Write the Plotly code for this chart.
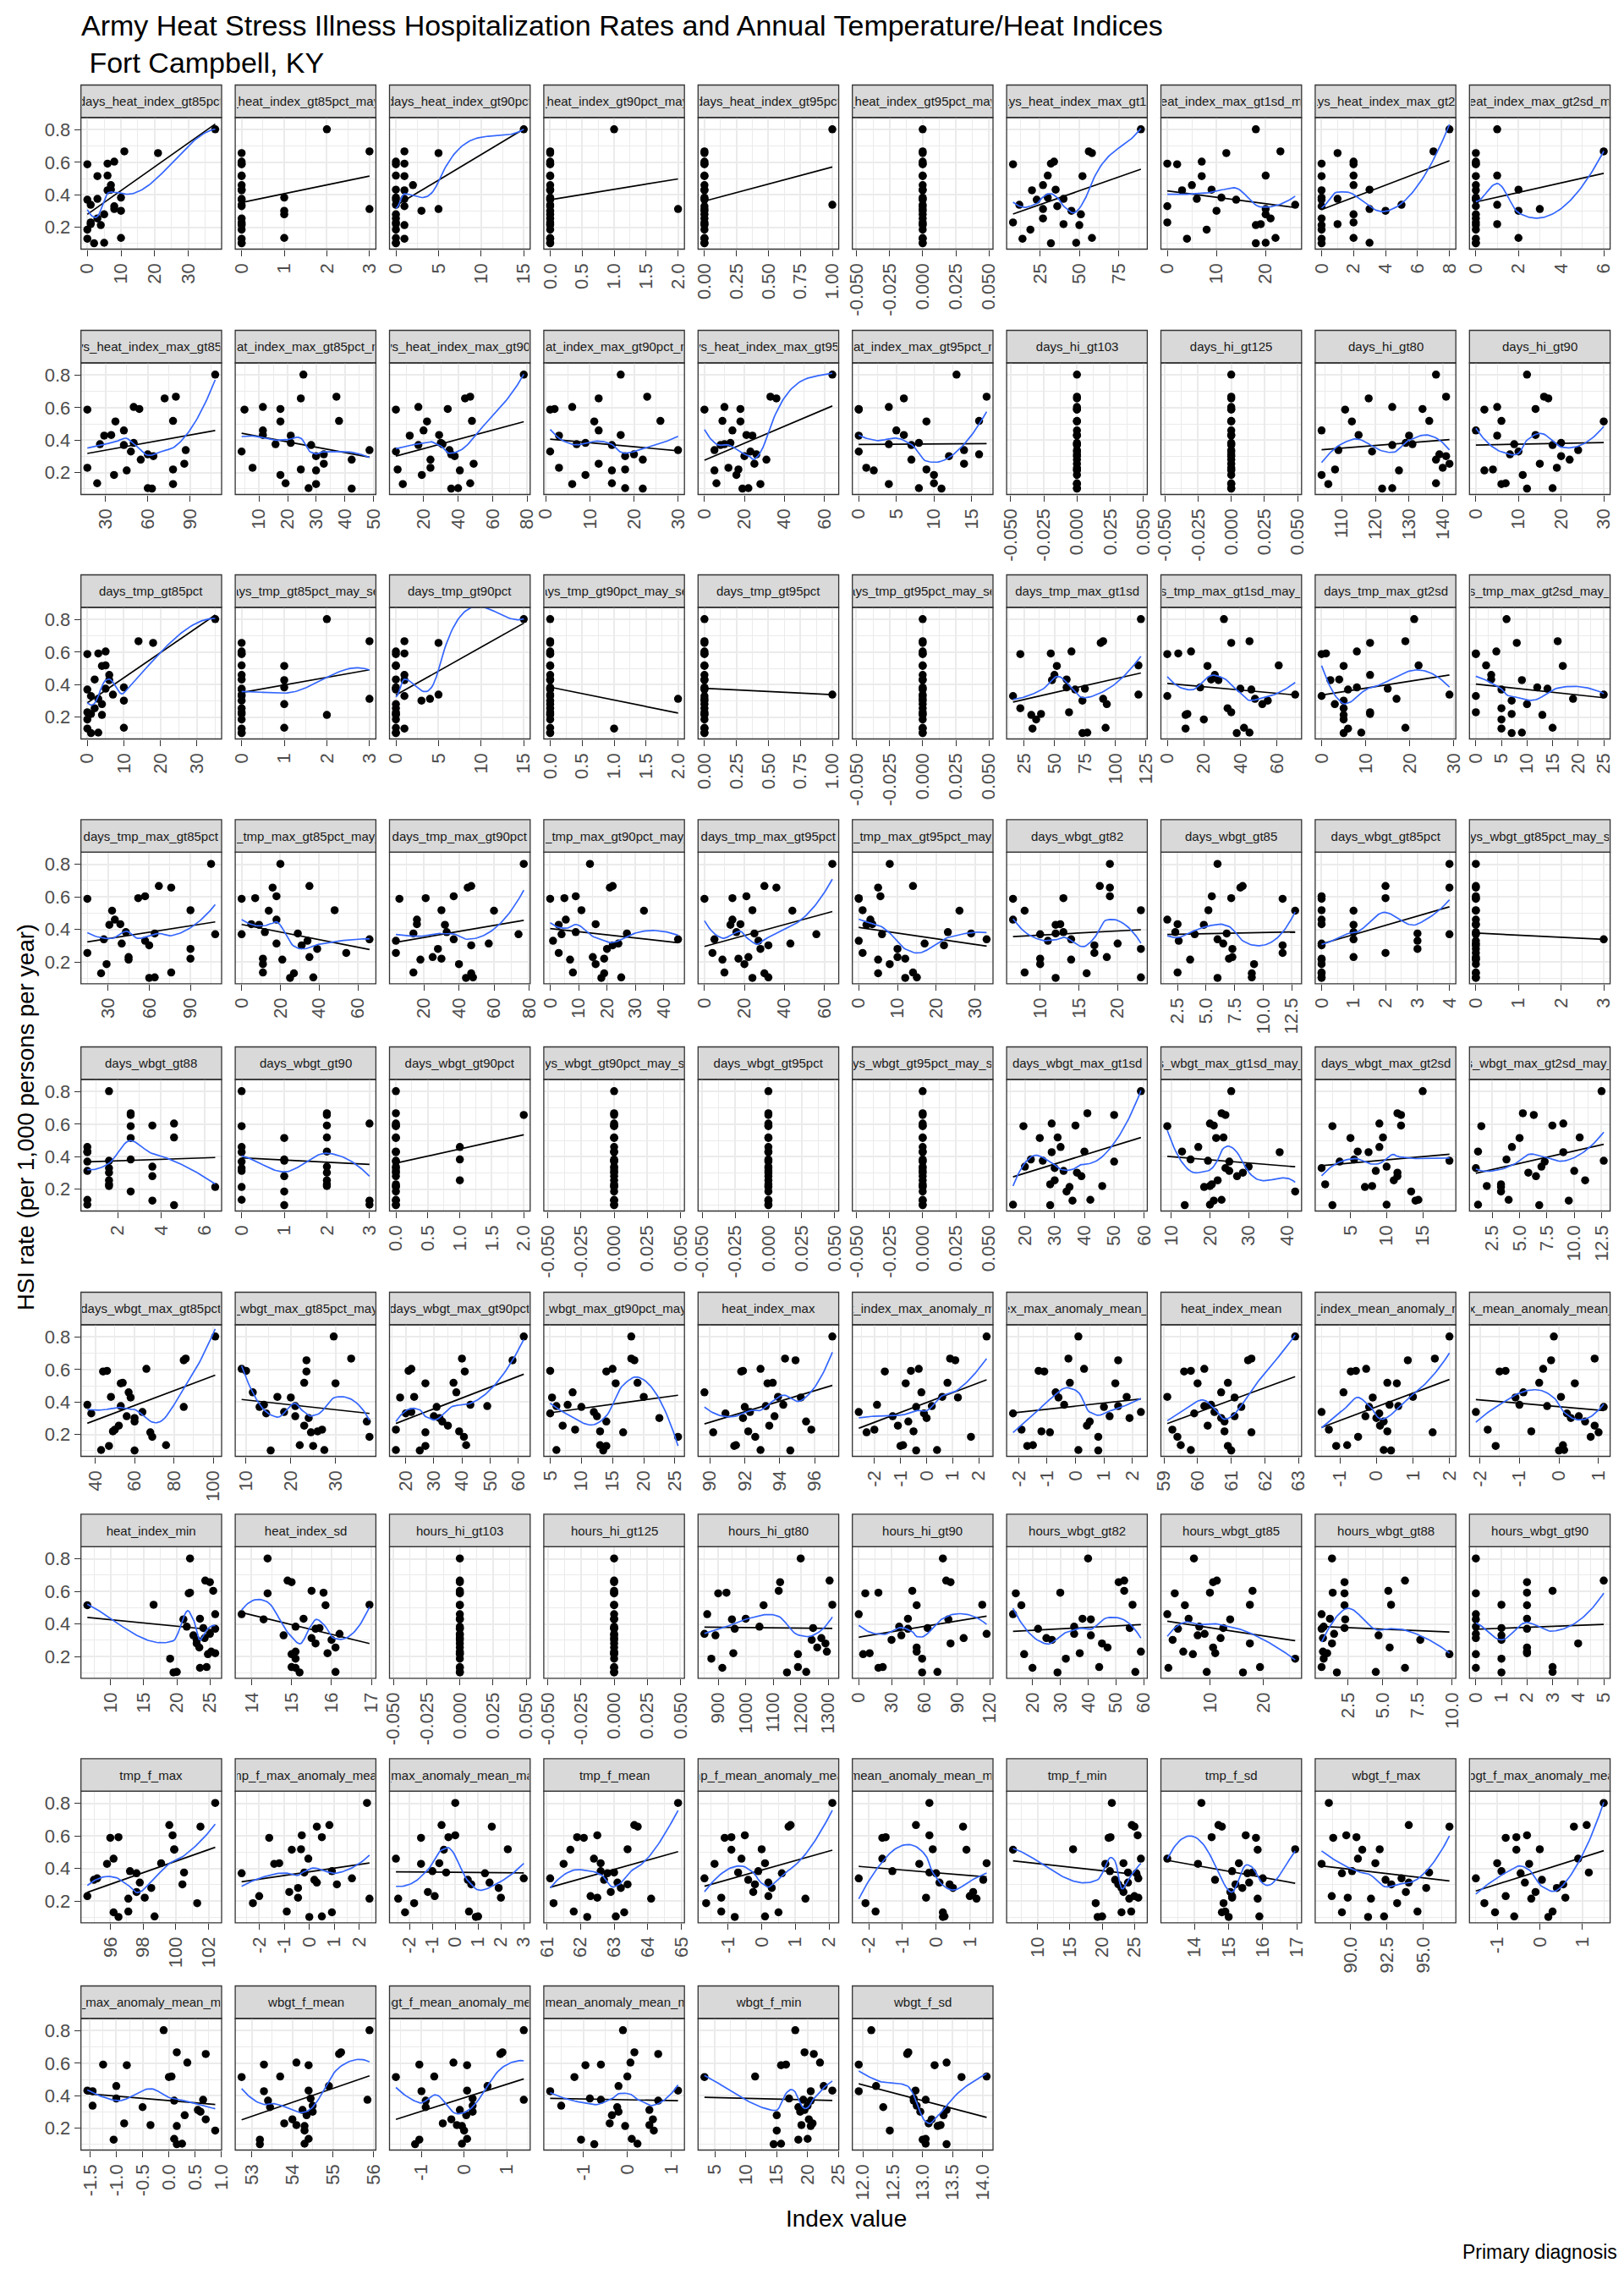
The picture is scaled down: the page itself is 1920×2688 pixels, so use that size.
import math
import numpy as np
import plotly.graph_objects as go

# ---------------------------------------------------------------- data
# HSI hospitalization rate (per 1,000 persons per year), one value per year,
# listed in ascending order; every panel pairs its index values with these.
hsi_rate = [0.102, 0.105, 0.130, 0.135, 0.186, 0.214, 0.220, 0.230, 0.255, 0.280,
            0.302, 0.313, 0.330, 0.339, 0.370, 0.375, 0.383, 0.428, 0.432, 0.460,
            0.515, 0.518, 0.588, 0.592, 0.604, 0.657, 0.667, 0.803]

panel_names = [
    "days_heat_index_gt85pct", "days_heat_index_gt85pct_may_sep", "days_heat_index_gt90pct",
    "days_heat_index_gt90pct_may_sep", "days_heat_index_gt95pct", "days_heat_index_gt95pct_may_sep",
    "days_heat_index_max_gt1sd", "days_heat_index_max_gt1sd_may_sep", "days_heat_index_max_gt2sd",
    "days_heat_index_max_gt2sd_may_sep",
    "days_heat_index_max_gt85pct", "days_heat_index_max_gt85pct_may_sep", "days_heat_index_max_gt90pct",
    "days_heat_index_max_gt90pct_may_sep", "days_heat_index_max_gt95pct", "days_heat_index_max_gt95pct_may_sep",
    "days_hi_gt103", "days_hi_gt125", "days_hi_gt80", "days_hi_gt90",
    "days_tmp_gt85pct", "days_tmp_gt85pct_may_sep", "days_tmp_gt90pct", "days_tmp_gt90pct_may_sep",
    "days_tmp_gt95pct", "days_tmp_gt95pct_may_sep", "days_tmp_max_gt1sd", "days_tmp_max_gt1sd_may_sep",
    "days_tmp_max_gt2sd", "days_tmp_max_gt2sd_may_sep",
    "days_tmp_max_gt85pct", "days_tmp_max_gt85pct_may_sep", "days_tmp_max_gt90pct",
    "days_tmp_max_gt90pct_may_sep", "days_tmp_max_gt95pct", "days_tmp_max_gt95pct_may_sep",
    "days_wbgt_gt82", "days_wbgt_gt85", "days_wbgt_gt85pct", "days_wbgt_gt85pct_may_sep",
    "days_wbgt_gt88", "days_wbgt_gt90", "days_wbgt_gt90pct", "days_wbgt_gt90pct_may_sep",
    "days_wbgt_gt95pct", "days_wbgt_gt95pct_may_sep", "days_wbgt_max_gt1sd", "days_wbgt_max_gt1sd_may_sep",
    "days_wbgt_max_gt2sd", "days_wbgt_max_gt2sd_may_sep",
    "days_wbgt_max_gt85pct", "days_wbgt_max_gt85pct_may_sep", "days_wbgt_max_gt90pct",
    "days_wbgt_max_gt90pct_may_sep", "heat_index_max", "heat_index_max_anomaly_mean",
    "heat_index_max_anomaly_mean_may_sep", "heat_index_mean", "heat_index_mean_anomaly_mean",
    "heat_index_mean_anomaly_mean_may_sep",
    "heat_index_min", "heat_index_sd", "hours_hi_gt103", "hours_hi_gt125", "hours_hi_gt80",
    "hours_hi_gt90", "hours_wbgt_gt82", "hours_wbgt_gt85", "hours_wbgt_gt88", "hours_wbgt_gt90",
    "tmp_f_max", "tmp_f_max_anomaly_mean", "tmp_f_max_anomaly_mean_may_sep", "tmp_f_mean",
    "tmp_f_mean_anomaly_mean", "tmp_f_mean_anomaly_mean_may_sep", "tmp_f_min", "tmp_f_sd",
    "wbgt_f_max", "wbgt_f_max_anomaly_mean",
    "wbgt_f_max_anomaly_mean_may_sep", "wbgt_f_mean", "wbgt_f_mean_anomaly_mean",
    "wbgt_f_mean_anomaly_mean_may_sep", "wbgt_f_min", "wbgt_f_sd",
]

# index values, in the same order as hsi_rate
days_heat_index_gt85pct = [2, 5, 0, 10, 0, 4, 1, 1, 3, 5, 10, 8, 8, 1, 0, 3, 10, 6, 7, 7, 3, 6, 0, 6, 8, 21, 11, 38]
days_heat_index_gt85pct_may_sep = [0, 0, 0, 1, 0, 0, 0, 0, 0, 1, 1, 3, 0, 0, 0, 0, 1, 0, 0, 0, 0, 0, 0, 0, 0, 0, 3, 2]
days_heat_index_gt90pct = [0, 0, 1, 0, 0, 1, 0, 0, 0, 0, 3, 5, 1, 0, 0, 1, 0, 1, 0, 2, 1, 0, 0, 1, 0, 5, 1, 15]
days_heat_index_gt90pct_may_sep = [0, 0, 0, 0, 0, 0, 0, 0, 0, 0, 0, 2, 0, 0, 0, 0, 0, 0, 0, 0, 0, 0, 0, 0, 0, 0, 0, 1]
days_heat_index_gt95pct = [0, 0, 0, 0, 0, 0, 0, 0, 0, 0, 0, 0, 0, 1, 0, 0, 0, 0, 0, 0, 0, 0, 0, 0, 0, 0, 0, 1]
days_heat_index_gt95pct_may_sep = [0, 0, 0, 0, 0, 0, 0, 0, 0, 0, 0, 0, 0, 0, 0, 0, 0, 0, 0, 0, 0, 0, 0, 0, 0, 0, 0, 0]
days_heat_index_max_gt1sd = [32, 48, 14, 58, 19, 50, 40, 8, 27, 51, 45, 27, 36, 12, 23, 40, 30, 20, 35, 27, 52, 30, 8, 32, 34, 58, 56, 89]
days_heat_index_max_gt1sd_may_sep = [18, 20, 4, 22, 8, 18, 19, 0, 21, 20, 10, 20, 0, 26, 14, 6, 11, 3, 9, 5, 7, 20, 2, 0, 7, 12, 23, 18]
days_heat_index_max_gt2sd = [0, 3, 0, 2, 0, 0, 1, 2, 0, 2, 4, 3, 0, 5, 0, 1, 0, 0, 3, 2, 0, 2, 2, 0, 2, 1, 7, 8]
days_heat_index_max_gt2sd_may_sep = [0, 0, 0, 2, 0, 0, 1, 0, 0, 0, 2, 3, 0, 1, 0, 0, 0, 0, 2, 0, 0, 1, 0, 0, 0, 0, 6, 1]
days_heat_index_max_gt85pct = [63, 60, 78, 24, 36, 45, 78, 17, 86, 55, 64, 60, 48, 87, 43, 26, 50, 29, 34, 43, 37, 78, 17, 54, 50, 72, 80, 108]
days_heat_index_max_gt85pct_may_sep = [42.3, 27.3, 29.9, 19.3, 17.5, 29.9, 24.6, 7.8, 32.6, 42.3, 29.9, 32.6, 4, 48.5, 28.2, 15.8, 21.1, 21.1, 11.4, 11.4, 17.5, 37.9, 5, 17.5, 11.4, 24.6, 37, 25.5]
days_heat_index_max_gt90pct = [36, 40, 8, 47, 19, 41, 5, 24, 49, 24, 38, 36, 4, 35, 17, 31, 30, 12, 29, 20, 22, 48, 4, 34, 17, 44, 47, 78]
days_heat_index_max_gt90pct_may_sep = [22, 18, 6, 15, 9, 15, 18, 3, 12, 22, 18, 20, 1, 30, 15, 7, 9, 3, 17, 12, 11, 26, 1, 2, 6, 12, 23, 17]
days_heat_index_max_gt95pct = [19, 22, 28, 6, 16, 5, 17, 12, 25, 31, 20, 26, 23, 5, 8, 10, 13, 24, 21, 14, 18, 9, 0, 18, 10, 36, 33, 64]
days_heat_index_max_gt95pct_may_sep = [11, 8, 4, 10, 10, 2, 9, 1, 14, 7, 12, 16, 0, 14, 7, 4, 8, 0, 6, 5, 9, 16, 0, 0, 4, 6, 17, 13]
days_hi_gt103 = [0, 0, 0, 0, 0, 0, 0, 0, 0, 0, 0, 0, 0, 0, 0, 0, 0, 0, 0, 0, 0, 0, 0, 0, 0, 0, 0, 0]
days_hi_gt125 = [0, 0, 0, 0, 0, 0, 0, 0, 0, 0, 0, 0, 0, 0, 0, 0, 0, 0, 0, 0, 0, 0, 0, 0, 0, 0, 0, 0]
days_hi_gt80 = [122, 125, 106, 138, 104, 127, 108, 140, 142, 138, 141, 139, 119, 109, 125, 131, 129, 130, 115, 104, 113, 136, 111, 134, 125, 118, 141, 138]
days_hi_gt90 = [12, 18, 6, 7, 11, 2, 4, 19, 15, 22, 20, 8, 10, 24, 18, 9, 20, 5, 14, 0, 30, 6, 2, 14, 5, 17, 16, 12]
days_tmp_gt85pct = [1, 3, 0, 10, 0, 4, 1, 0, 2, 4, 10, 3, 1, 7, 0, 5, 10, 6, 2, 6, 4, 5, 0, 3, 5, 18, 14, 35]
days_tmp_gt85pct_may_sep = [0, 0, 0, 1, 0, 2, 0, 0, 0, 1, 0, 3, 0, 0, 0, 0, 1, 1, 0, 0, 1, 0, 0, 0, 0, 0, 3, 2]
days_tmp_gt90pct = [0, 0, 1, 0, 0, 0, 0, 0, 0, 0, 3, 4, 1, 5, 0, 0, 0, 1, 0, 1, 0, 0, 0, 1, 0, 5, 1, 15]
days_tmp_gt90pct_may_sep = [0, 0, 1, 0, 0, 0, 0, 0, 0, 0, 0, 2, 0, 0, 0, 0, 0, 0, 0, 0, 0, 0, 0, 0, 0, 0, 0, 0]
days_tmp_gt95pct = [0, 0, 0, 0, 0, 0, 0, 0, 0, 0, 0, 0, 0, 1, 0, 0, 0, 0, 0, 0, 0, 0, 0, 0, 0, 0, 0, 0]
days_tmp_gt95pct_may_sep = [0, 0, 0, 0, 0, 0, 0, 0, 0, 0, 0, 0, 0, 0, 0, 0, 0, 0, 0, 0, 0, 0, 0, 0, 0, 0, 0, 0]
days_tmp_max_gt1sd = [73, 77, 32, 92, 35, 31, 39, 62, 22, 93, 73, 90, 16, 119, 67, 75, 60, 48, 60, 50, 52, 119, 22, 47, 64, 88, 90, 121]
days_tmp_max_gt1sd_may_sep = [38, 45, 10, 42, 20, 10, 11, 35, 33, 52, 55, 48, 0, 70, 46, 40, 18, 28, 24, 26, 22, 61, 0, 6, 13, 35, 45, 31]
days_tmp_max_gt2sd = [5, 9, 6, 19, 5, 5, 11, 11, 5, 3, 5, 17, 0, 29, 6, 15, 8, 2, 4, 11, 5, 22, 0, 1, 8, 11, 19, 21]
days_tmp_max_gt2sd_may_sep = [7, 9, 5, 15, 5, 13, 7, 0, 5, 10, 7, 19, 0, 25, 5, 14, 12, 9, 3, 3, 17, 2, 0, 0, 4, 8, 16, 6]
days_tmp_max_gt85pct = [60, 64, 25, 76, 29, 45, 90, 45, 15, 90, 60, 40, 57, 27, 108, 64, 43, 31, 39, 35, 33, 90, 15, 52, 57, 76, 67, 105]
days_tmp_max_gt85pct_may_sep = [25, 37, 27, 11, 11, 21, 11, 35, 54, 39, 31, 18, 34, 66, 0, 29, 12, 9, 5, 18, 14, 48, 0, 7, 18, 16, 35, 20]
days_tmp_max_gt90pct = [44, 48, 47, 14, 40, 18, 30, 25, 4, 28, 47, 57, 4, 37, 74, 14, 33, 32, 16, 16, 60, 30, 6, 21, 37, 45, 47, 77]
days_tmp_max_gt90pct_may_sep = [18, 25, 19, 8, 16, 7, 19, 15, 3, 20, 22, 24, 1, 45, 4, 27, 9, 3, 16, 5.5, 33, 11, 0, 5, 9, 21, 22, 14]
days_tmp_max_gt95pct = [24, 32, 30, 10, 20, 9, 17, 22, 4, 28, 32, 43, 27, 5, 56, 25, 16, 13, 18, 14, 44, 24, 0, 14, 21, 36, 30, 64]
days_tmp_max_gt95pct_may_sep = [12, 15, 5, 14, 8, 5, 12, 10, 1, 10, 22, 17, 0, 33, 6, 29, 23, 2, 3.5, 3, 26, 1, 0, 0, 5.6, 5, 14, 8]
days_wbgt_gt82 = [12, 23, 16, 8, 10, 14, 10, 18.6, 17, 23, 17, 20, 11, 14, 10, 12, 13, 12, 12.6, 6.5, 8, 23, 6.5, 13, 19, 19, 17.7, 19]
days_wbgt_gt85 = [6, 9, 9, 2.5, 9.2, 3.6, 7, 7.3, 11.7, 7.3, 11.7, 6.5, 2.6, 6, 4, 6.8, 2.3, 4.8, 2.5, 1.6, 12.8, 5.2, 11.7, 7.2, 5.5, 8, 8.2, 6]
days_wbgt_gt85pct = [0, 0, 0, 0, 0, 0, 0, 1, 2, 3, 0, 0, 3, 1, 4, 3, 1, 1, 0, 0, 1, 0, 0, 2, 0, 4, 2, 4]
days_wbgt_gt85pct_may_sep = [0, 0, 0, 0, 0, 0, 0, 0, 0, 0, 0, 0, 0, 3, 0, 0, 0, 0, 0, 0, 0, 0, 0, 0, 0, 0, 0, 0]
days_wbgt_gt88 = [4.6, 0.6, 3.6, 0.6, 2.6, 6.5, 1.6, 1.6, 1.6, 3.6, 1.6, 0.6, 1.6, 3.6, 0.6, 1.6, 2.6, 0.6, 0.6, 0.6, 2.6, 4.6, 2.6, 3.6, 4.6, 2.6, 2.6, 1.6]
days_wbgt_gt90 = [1, 3, 3, 0, 1, 0, 2, 2, 2, 1, 2, 0, 0, 2, 0, 1, 1, 0, 2, 0, 1, 2, 0, 2, 3, 2, 2, 0]
days_wbgt_gt90pct = [0, 0, 0, 0, 0, 0, 0, 0, 1, 0, 0, 0, 0, 0, 0, 0, 1, 0, 0, 1, 0, 0, 0, 0, 0, 2, 0, 0]
days_wbgt_gt90pct_may_sep = [0, 0, 0, 0, 0, 0, 0, 0, 0, 0, 0, 0, 0, 0, 0, 0, 0, 0, 0, 0, 0, 0, 0, 0, 0, 0, 0, 0]
days_wbgt_gt95pct = [0, 0, 0, 0, 0, 0, 0, 0, 0, 0, 0, 0, 0, 0, 0, 0, 0, 0, 0, 0, 0, 0, 0, 0, 0, 0, 0, 0]
days_wbgt_gt95pct_may_sep = [0, 0, 0, 0, 0, 0, 0, 0, 0, 0, 0, 0, 0, 0, 0, 0, 0, 0, 0, 0, 0, 0, 0, 0, 0, 0, 0, 0]
days_wbgt_max_gt1sd = [28.5, 16, 36, 42, 34, 35, 46, 28.5, 30, 39, 37.5, 33, 30, 20, 50, 26, 22, 29, 40, 32, 25, 31, 19.5, 37, 29, 50, 41, 59]
days_wbgt_max_gt1sd_may_sep = [13.5, 20, 21, 23, 42, 18.5, 20, 20.5, 22, 27, 28.5, 25, 24, 30, 25, 19.5, 15, 38, 12.8, 17, 21.6, 23.5, 9, 21, 20, 24, 23, 25.5]
days_wbgt_max_gt2sd = [2.5, 10, 14, 14.4, 13.4, 7, 8, 1.5, 11, 11.5, 11.5, 8.5, 1, 10, 3.5, 18.7, 5.5, 7.5, 6, 9, 5, 9.5, 2.5, 12, 9, 12, 11.5, 15]
days_wbgt_max_gt2sd_may_sep = [6.8, 1.2, 9.5, 4, 3.3, 3.3, 2, 3.3, 11, 6.5, 5.8, 10, 1, 7, 7.3, 12.7, 3.8, 9, 1.2, 4.3, 5, 10.5, 1.5, 8, 9, 6.3, 5.3, 12.5]
days_wbgt_max_gt85pct = [60, 43, 47, 76, 69, 68, 49, 50, 52, 60, 60, 56, 38, 64, 85, 53, 36, 58, 48, 57, 53, 54, 44, 46, 66, 85, 86, 101]
days_wbgt_max_gt85pct_may_sep = [15.5, 27.5, 25, 22, 37.6, 24.5, 26, 27, 23, 37, 24, 21, 14.5, 18.5, 13, 21, 14, 20, 17, 11.5, 30, 23, 23.5, 10, 9, 23.5, 33.5, 29.6]
days_wbgt_max_gt90pct = [25, 16.5, 27, 41.5, 40.7, 27, 39, 16.5, 35, 33, 32, 30, 20, 22, 31, 49, 43, 18, 23, 38, 27, 37, 41, 21, 22, 58, 40, 62]
days_wbgt_max_gt90pct_may_sep = [13.5, 6, 14, 13, 25.5, 16.7, 13, 9, 7, 14, 22.5, 12.5, 5, 12, 10, 6, 7.8, 5.3, 20, 8.6, 15.5, 19, 14, 5, 15, 18.5, 18, 18]
heat_index_max = [94.6, 92.9, 91.4, 91.5, 92.6, 90.2, 92.2, 95.8, 93.4, 95.5, 91.9, 93.7, 90.9, 92.3, 92, 93.2, 94.2, 95.2, 93.9, 89.7, 93.3, 93.6, 91.8, 91.9, 92.9, 94.9, 94.3, 97]
heat_index_max_anomaly_mean = [-0.4, 0.4, -1, -0.9, 1.7, -2.3, -0.5, -2, -1.1, -0.7, 0, -1.3, -0.1, -2.6, -0.4, 0.2, -1.9, 1.2, 0.6, -0.2, -0.8, 0.8, -1.6, -0.6, -0.3, 1.1, 0.9, 2.3]
heat_index_max_anomaly_mean_may_sep = [0.8, 0.1, -1.7, -1.5, 0.8, -0.9, -1.2, -1.9, 0.4, 0.5, 1.9, 1.2, -2.2, 2.3, 1, 1.5, -0.4, -0.6, 1.8, -0.7, 1.4, -0.2, -1.1, -1.3, 0.3, 1.5, -0.25, 0.1]
heat_index_mean = [61, 59.8, 60.9, 59.5, 59.4, 61.6, 60.8, 59.25, 60.3, 60.8, 60.7, 61.1, 59.9, 60.5, 61.3, 60.2, 60.4, 61.1, 59.1, 60.7, 60, 60.9, 59.6, 59.8, 60.2, 61.5, 61.6, 62.9]
heat_index_mean_anomaly_mean = [0.4, 0.2, -1.1, -0.8, -0.5, 1.54, 0.3, -1.3, 0.1, 0.2, 0, -0.3, 0.08, -1.5, -0.2, 0.6, 0.36, -0.1, 1, -0.9, 0.56, 0.3, -0.7, -0.56, -0.28, 0.86, 1.6, 2]
heat_index_mean_anomaly_mean_may_sep = [0, 0.13, -1.6, 0.1, 0.8, 1, -0.7, -1.8, 0.9, 0.66, 0.3, 0.5, 0.2, -2.1, 1.13, -0.3, -1, -1.1, 0.05, -0.9, 0.4, -0.5, -1.5, -1.35, -0.4, -0.2, 0.9, -0.13]
heat_index_min = [19.5, 20, 23.5, 24.5, 19, 24.7, 25.8, 25.2, 23.4, 23, 23, 24.2, 22.5, 25, 25.8, 24, 21.5, 21, 23.5, 25.8, 6.5, 16.5, 21.8, 22, 25.5, 25, 24.3, 22]
heat_index_sd = [15.2, 16.1, 15.1, 15, 15.1, 15, 15.9, 15.1, 16.1, 15.6, 16, 15.5, 14.8, 16.2, 15.6, 15.7, 15.1, 14.3, 15.3, 13.75, 15.85, 16.95, 14.4, 15.8, 15.5, 15, 14.9, 14.4]
hours_hi_gt103 = [0, 0, 0, 0, 0, 0, 0, 0, 0, 0, 0, 0, 0, 0, 0, 0, 0, 0, 0, 0, 0, 0, 0, 0, 0, 0, 0, 0]
hours_hi_gt125 = [0, 0, 0, 0, 0, 0, 0, 0, 0, 0, 0, 0, 0, 0, 0, 0, 0, 0, 0, 0, 0, 0, 0, 0, 0, 0, 0, 0]
hours_hi_gt80 = [1150, 1220, 915, 1190, 875, 1190, 955, 1295, 1260, 1290, 1240, 1275, 890, 850, 960, 1245, 1050, 950, 1000, 860, 1065, 1315, 900, 930, 1120, 1125, 1305, 1200]
hours_hi_gt90 = [58, 72, 18, 22, 58, 4, 10, 53, 53, 84, 30, 96, 39, 117, 45, 63, 37, 82, 45, 0, 53, 113, 6, 18, 49, 84, 80, 77]
hours_wbgt_gt82 = [29, 57, 20, 44, 32, 17, 37, 59, 47, 45, 27, 25, 41, 35, 22, 55, 35, 41, 38, 13, 16, 56, 14, 30, 53, 51, 53, 40]
hours_wbgt_gt85 = [16.2, 9.4, 2.2, 19.4, 26, 6.8, 11, 5, 10.6, 17.5, 3, 12, 7.7, 9, 4, 12.5, 8, 13.8, 6, 2, 5.3, 17.5, 3.4, 10, 18, 10.6, 11.3, 7]
hours_wbgt_gt88 = [1.7, 4.5, 6.6, 0.6, 0.75, 9.8, 1, 0.7, 5.5, 1.35, 7.7, 0.7, 4.7, 1.5, 0.6, 2.25, 0.75, 2.3, 1.2, 0.6, 2.25, 5.6, 2.25, 1.4, 5.4, 2.25, 6.6, 1.35]
hours_wbgt_gt90 = [1, 3, 0, 3, 1, 0, 2, 2, 2, 4, 1, 0, 1, 0, 2, 1, 0, 0, 2, 0, 2, 1, 0, 2, 3, 2, 5, 0]
tmp_f_max = [96.5, 98.7, 96.2, 97.1, 101.3, 97.1, 98.1, 94.6, 97.6, 98.5, 100.4, 97.8, 95, 95.2, 97.6, 100.5, 97.2, 95.8, 99.1, 96.2, 99.9, 99.9, 96, 96.5, 99.8, 101.5, 99.6, 102.4]
tmp_f_max_anomaly_mean = [0, 0.5, 0.9, -0.9, -2.25, 2.4, -0.45, -2, -0.8, -0.45, 1.1, 0.3, 0.2, 1.7, -2.7, -0.2, 0.9, -1.4, -1.2, -0.04, -0.7, -0.33, -1.6, 0.5, -0.3, 0.3, 0.8, 2.3]
tmp_f_max_anomaly_mean_may_sep = [0.9, 1, -2.2, 0.6, -1.8, -2.5, 2, -0.9, -1.2, 1.9, 0.7, 1.5, 0.55, 3, 1.3, -0.4, -1, -1.5, -0.7, -2.6, -0.5, 2.3, -1.5, -0.3, 0, 1.6, -0.6, 0]
tmp_f_mean = [62.2, 63.05, 63.3, 61.8, 61.2, 64.1, 62.5, 62.3, 62.9, 63.2, 63.4, 63.1, 62.7, 61.1, 62.8, 63, 62.6, 61.5, 62.6, 62.4, 61.7, 63.4, 62.1, 61.9, 62.5, 63.7, 63.6, 64.9]
tmp_f_mean_anomaly_mean = [-0.8, 0.1, 0.5, -1.2, -1.65, 1.3, -1.2, 0.2, -0.25, 0.3, -0.2, 0.2, -0.4, -1.7, 0.6, -0.7, -0.1, -1.4, 0.1, -0.6, -0.9, 0, -1.1, -0.9, -0.5, 0.8, 0.86, 2.1]
tmp_f_mean_anomaly_mean_may_sep = [0.2, 0.25, 0.2, -1.8, -2.1, 1.2, -0.3, 1, 1.1, 0.5, 0.4, 0.1, 1.4, -2.3, 0, -0.2, -1.3, -0.5, 1.5, -1.6, 0.9, -0.1, -1.6, -1.5, -0.2, 0.8, -0.6, -0.2]
tmp_f_min = [19.3, 20, 23, 24.5, 19, 24.2, 25.6, 25, 23.3, 23, 22.5, 24, 22, 25.6, 25.3, 24, 21.2, 20.5, 23.3, 26, 6.2, 15.5, 21, 21.3, 25.5, 25, 24.6, 21.5]
tmp_f_sd = [15, 15.9, 14.8, 14.9, 14.85, 15.85, 15.1, 15.1, 15.05, 15.4, 15.2, 15.6, 14.6, 16, 15.55, 15.7, 15.1, 14.1, 15.3, 13.2, 15.85, 16.95, 15.8, 14.5, 15.5, 14.8, 14.7, 14.2]
wbgt_f_max = [91.2, 92.3, 89.4, 94.6, 93.2, 91.4, 89.8, 88.7, 93.8, 95.2, 92.8, 94, 92.4, 93.5, 89.4, 95.4, 90.1, 88.0, 91.7, 90.5, 90.8, 92, 88.8, 90.4, 89.7, 96.8, 94, 88.5]
wbgt_f_max_anomaly_mean = [0.2, -0.6, -1.05, 0.3, -1.3, -0.2, 0.6, -0.8, -0.1, 0.4, 0.55, -0.35, 0.05, -1.5, -0.45, 1.15, -0.9, -0.25, -1, 0.9, -0.55, 0, -0.8, -0.55, -0.3, 0.8, 1.1, 1.5]
wbgt_f_max_anomaly_mean_may_sep = [0.15, 0.25, -1.05, 0.1, 0.88, 0.15, -0.35, -0.85, 0.7, 0.3, 0.6, 0.55, -0.5, -1.45, 0.1, 0.65, -1, -1.45, -1.55, -1, 0, 0.05, -0.8, -1.25, 0.35, 0.7, 0.15, -0.1]
wbgt_f_mean = [53.2, 54.3, 53.2, 54.4, 54.3, 54.3, 54.1, 53.8, 54, 54.35, 54.5, 54.25, 53.45, 54.5, 53.4, 55.85, 54.45, 53.3, 54.4, 54.9, 52.75, 53.7, 54.4, 53.3, 54.1, 55.15, 55.2, 55.9]
wbgt_f_mean_anomaly_mean = [-1.15, -0.05, -1.05, 0.07, 0, -0.05, -0.17, -0.5, -0.3, 0.05, 0.2, -0.1, -0.9, 0.2, -0.9, 1.4, 0.2, -1, 0.07, 0.55, -1.6, -0.7, 0.07, -1.05, -0.25, 0.85, 0.9, 1.4]
wbgt_f_mean_anomaly_mean_may_sep = [-0.75, 0.23, -1.05, 0.1, 0.6, -0.05, 0.5, -0.4, 0.58, -0.35, -0.2, 0.5, -0.23, -1.5, 0.7, -0.6, -0.85, -1.75, 1.15, -0.2, -1.2, 0, -0.95, -0.6, 0.07, 0.7, 0.16, -0.1]
wbgt_f_min = [14.5, 15.7, 18.5, 20, 15, 20.5, 19, 20.8, 20.2, 15, 18.8, 19.5, 18.5, 20, 20.5, 19.3, 17, 20.5, 24, 22.6, 3.3, 11.5, 15.7, 16.5, 22, 21, 19.5, 18]
wbgt_f_sd = [13.4, 13.05, 13, 13.05, 12.45, 13.25, 13.3, 13.1, 13.15, 13.35, 12.96, 13.4, 12.34, 12.9, 12.85, 13.05, 12.85, 11.93, 12.88, 12.22, 13.65, 14.07, 13.2, 11.93, 13.4, 12.74, 12.76, 12.14]

panel_x = [
    days_heat_index_gt85pct, days_heat_index_gt85pct_may_sep, days_heat_index_gt90pct,
    days_heat_index_gt90pct_may_sep, days_heat_index_gt95pct, days_heat_index_gt95pct_may_sep,
    days_heat_index_max_gt1sd, days_heat_index_max_gt1sd_may_sep, days_heat_index_max_gt2sd,
    days_heat_index_max_gt2sd_may_sep,
    days_heat_index_max_gt85pct, days_heat_index_max_gt85pct_may_sep, days_heat_index_max_gt90pct,
    days_heat_index_max_gt90pct_may_sep, days_heat_index_max_gt95pct, days_heat_index_max_gt95pct_may_sep,
    days_hi_gt103, days_hi_gt125, days_hi_gt80, days_hi_gt90,
    days_tmp_gt85pct, days_tmp_gt85pct_may_sep, days_tmp_gt90pct, days_tmp_gt90pct_may_sep,
    days_tmp_gt95pct, days_tmp_gt95pct_may_sep, days_tmp_max_gt1sd, days_tmp_max_gt1sd_may_sep,
    days_tmp_max_gt2sd, days_tmp_max_gt2sd_may_sep,
    days_tmp_max_gt85pct, days_tmp_max_gt85pct_may_sep, days_tmp_max_gt90pct,
    days_tmp_max_gt90pct_may_sep, days_tmp_max_gt95pct, days_tmp_max_gt95pct_may_sep,
    days_wbgt_gt82, days_wbgt_gt85, days_wbgt_gt85pct, days_wbgt_gt85pct_may_sep,
    days_wbgt_gt88, days_wbgt_gt90, days_wbgt_gt90pct, days_wbgt_gt90pct_may_sep,
    days_wbgt_gt95pct, days_wbgt_gt95pct_may_sep, days_wbgt_max_gt1sd, days_wbgt_max_gt1sd_may_sep,
    days_wbgt_max_gt2sd, days_wbgt_max_gt2sd_may_sep,
    days_wbgt_max_gt85pct, days_wbgt_max_gt85pct_may_sep, days_wbgt_max_gt90pct,
    days_wbgt_max_gt90pct_may_sep, heat_index_max, heat_index_max_anomaly_mean,
    heat_index_max_anomaly_mean_may_sep, heat_index_mean, heat_index_mean_anomaly_mean,
    heat_index_mean_anomaly_mean_may_sep,
    heat_index_min, heat_index_sd, hours_hi_gt103, hours_hi_gt125, hours_hi_gt80,
    hours_hi_gt90, hours_wbgt_gt82, hours_wbgt_gt85, hours_wbgt_gt88, hours_wbgt_gt90,
    tmp_f_max, tmp_f_max_anomaly_mean, tmp_f_max_anomaly_mean_may_sep, tmp_f_mean,
    tmp_f_mean_anomaly_mean, tmp_f_mean_anomaly_mean_may_sep, tmp_f_min, tmp_f_sd,
    wbgt_f_max, wbgt_f_max_anomaly_mean,
    wbgt_f_max_anomaly_mean_may_sep, wbgt_f_mean, wbgt_f_mean_anomaly_mean,
    wbgt_f_mean_anomaly_mean_may_sep, wbgt_f_min, wbgt_f_sd,
]

title_text = ("Army Heat Stress Illness Hospitalization Rates and Annual Temperature/Heat Indices"
              "<br>\u00a0Fort Campbell, KY")
y_title = "HSI rate (per 1,000 persons per year)"
x_title = "Index value"
caption = "Primary diagnosis"
y_ticks = [0.2, 0.4, 0.6, 0.8]
y_minor = [0.1, 0.3, 0.5, 0.7]

# ---------------------------------------------------------------- helpers
# Wilkinson "extended" tick search (as used by ggplot2 / scales)
def _simp(q, Q, j, lmin, lmax, lstep):
    eps = 2.220446e-16 * 100
    n = len(Q); i = Q.index(q) + 1
    md = lmin % lstep
    v = 1 if ((md < eps or lstep - md < eps) and lmin <= 0 and lmax >= 0) else 0
    return 1 - (i - 1) / (n - 1) - j + v

def _simp_max(q, Q, j):
    n = len(Q); i = Q.index(q) + 1
    return 1 - (i - 1) / (n - 1) - j + 1

def _cov(dmin, dmax, lmin, lmax):
    r = dmax - dmin
    return 1 - 0.5 * ((dmax - lmax) ** 2 + (dmin - lmin) ** 2) / ((0.1 * r) ** 2)

def _cov_max(dmin, dmax, span):
    r = dmax - dmin
    if span > r:
        half = (span - r) / 2
        return 1 - 0.5 * (2 * half ** 2) / ((0.1 * r) ** 2)
    return 1

def _dens(k, m, dmin, dmax, lmin, lmax):
    r = (k - 1) / (lmax - lmin)
    rt = (m - 1) / (max(lmax, dmax) - min(dmin, lmin))
    return 2 - max(r / rt, rt / r)

def _dens_max(k, m):
    return 2 - (k - 1) / (m - 1) if k >= m else 1

def extended(dmin, dmax, m=5):
    Q = [1, 5, 2, 2.5, 4, 3]
    w = [0.25, 0.2, 0.5, 0.05]
    best_score, best = -2, None
    j = 1
    done = False
    while not done:
        for q in Q:
            sm = _simp_max(q, Q, j)
            if w[0] * sm + w[1] + w[2] + w[3] < best_score:
                done = True
                break
            k = 2
            while True:
                dm = _dens_max(k, m)
                if w[0] * sm + w[1] + w[2] * dm + w[3] < best_score:
                    break
                delta = (dmax - dmin) / (k + 1) / j / q
                z = math.ceil(math.log10(delta))
                while True:
                    step = j * q * 10.0 ** z
                    cm = _cov_max(dmin, dmax, step * (k - 1))
                    if w[0] * sm + w[1] * cm + w[2] * dm + w[3] < best_score:
                        break
                    min_start = math.floor(dmax / step) * j - (k - 1) * j
                    max_start = math.ceil(dmin / step) * j
                    if min_start > max_start:
                        z += 1
                        continue
                    for start in range(int(min_start), int(max_start) + 1):
                        lmin = start * (step / j)
                        lmax = lmin + step * (k - 1)
                        s = _simp(q, Q, j, lmin, lmax, step)
                        c = _cov(dmin, dmax, lmin, lmax)
                        g = _dens(k, m, dmin, dmax, lmin, lmax)
                        score = w[0] * s + w[1] * c + w[2] * g + w[3]
                        if score > best_score:
                            best_score, best = score, (lmin, lmax, step)
                    z += 1
                k += 1
        j += 1
    lmin, lmax, step = best
    n = int(round((lmax - lmin) / step))
    return [lmin + i * step for i in range(n + 1)]

def fmt_labels(brks):
    d = 0
    for d in range(0, 8):
        if all(abs(b * 10 ** d - round(b * 10 ** d)) < 1e-6 for b in brks):
            break
    out = []
    for b in brks:
        if abs(b) < 1e-12:
            b = 0.0
        out.append(f"{b:.{d}f}")
    return out

def minor_breaks(brks, lo, hi):
    if len(brks) < 2:
        return []
    bd = brks[1] - brks[0]
    b = list(brks)
    if lo < b[0]:
        b = [b[0] - bd] + b
    if hi > b[-1]:
        b = b + [b[-1] + bd]
    mids = [(b[i] + b[i + 1]) / 2 for i in range(len(b) - 1)]
    return [v for v in mids if lo <= v <= hi]

def _local_fit(x, y, x0, q):
    d = np.abs(x - x0)
    dq = np.sort(d)[q - 1]
    if dq <= 0:
        return None
    u = np.clip(d / dq, 0, 1)
    wts = (1 - u ** 3) ** 3
    X = np.vstack([np.ones(len(x)), x - x0, (x - x0) ** 2]).T
    sw = np.sqrt(wts)
    beta = np.linalg.lstsq(X * sw[:, None], y * sw, rcond=None)[0]
    return beta[0], beta[1]

def loess_interp(x, y, xs, span=0.75, cell=0.2):
    """Local quadratic loess, evaluated like R's surface='interpolate'
    (kd-tree vertices + cubic Hermite interpolation). Returns None when
    the fit breaks down (a vertex whose neighbourhood has zero width)."""
    n = len(x)
    q = int(math.floor(n * span))
    fc = int(math.floor(n * span * cell))
    xsrt = np.sort(x)
    lo, hi = float(xsrt[0]), float(xsrt[-1])
    mu = 0.005 * max(hi - lo, 1e-10 * max(abs(lo), abs(hi)) + 1e-30)
    verts = {lo - mu, hi + mu}
    queue = [(0, n - 1, lo - mu, hi + mu)]
    while queue:
        l, u, vlo, vhi = queue.pop(0)
        if u - l + 1 <= fc:
            continue
        m = (l + u) // 2
        off = 0
        while l <= m + off < u:
            if xsrt[m + off] == xsrt[m + off + 1]:
                off = -off
                if off >= 0:
                    off += 1
            else:
                m = m + off
                break
        v = float(xsrt[m])
        if v == vlo or v == vhi:
            continue
        verts.add(v)
        queue.append((l, m, vlo, v))
        queue.append((m + 1, u, v, vhi))
    verts = sorted(verts)
    vals, slopes = [], []
    for v0 in verts:
        res = _local_fit(x, y, v0, q)
        if res is None:
            return None
        vals.append(res[0]); slopes.append(res[1])
    out = []
    for x0 in xs:
        i = int(np.searchsorted(verts, x0, side="right")) - 1
        i = min(max(i, 0), len(verts) - 2)
        a, b = verts[i], verts[i + 1]
        h = b - a
        t = (x0 - a) / h
        phi0 = (1 - t) ** 2 * (1 + 2 * t); phi1 = t ** 2 * (3 - 2 * t)
        psi0 = t * (1 - t) ** 2; psi1 = -t ** 2 * (1 - t)
        out.append(phi0 * vals[i] + phi1 * vals[i + 1] + (psi0 * slopes[i] + psi1 * slopes[i + 1]) * h)
    return np.array(out)

# ---------------------------------------------------------------- layout
W, H = 1920, 2688
COL_LEFT0, COL_PITCH, PANEL_W = 95.7, 182.4, 166.3
ROW_TOPS = [139, 429, 718, 1007.3, 1276, 1566, 1828.3, 2117.3, 2386]
PANEL_H, STRIP_H = 155.5, 38.5
Y_RANGE = [0.066, 0.875]
FONT = "Liberation Sans, Arial, sans-serif"
BORDER = "#333333"
GRID = "#EBEBEB"

fig = go.Figure()
shapes, annotations = [], []
layout_axes = {}
yv = np.array(hsi_rate, float)

for i, (name, xv) in enumerate(zip(panel_names, panel_x)):
    r, c = divmod(i, 10)
    L = COL_LEFT0 + c * COL_PITCH
    T = ROW_TOPS[r]
    xdom = [L / W, (L + PANEL_W) / W]
    ydom = [1 - (T + PANEL_H) / H, 1 - T / H]
    x = np.array(xv, float)
    lo, hi = float(x.min()), float(x.max())
    degenerate = (hi - lo) < 1e-12
    if degenerate:
        rng = [lo - 0.053, hi + 0.053]
    else:
        pad = 0.05 * (hi - lo)
        rng = [lo - pad, hi + pad]
    brks = [b for b in extended(rng[0], rng[1]) if rng[0] - 1e-9 <= b <= rng[1] + 1e-9]
    mnr = minor_breaks(brks, rng[0], rng[1])
    suf = "" if i == 0 else str(i + 1)

    fig.add_trace(go.Scatter(x=x, y=yv, mode="markers", xaxis="x" + suf, yaxis="y" + suf,
                             marker=dict(size=9.5, color="black"), showlegend=False,
                             hoverinfo="skip"))
    if not degenerate:
        xs = np.linspace(lo, hi, 80)
        slope, inter = np.polyfit(x, yv, 1)
        fig.add_trace(go.Scatter(x=xs, y=inter + slope * xs, mode="lines",
                                 xaxis="x" + suf, yaxis="y" + suf,
                                 line=dict(color="black", width=1.7), showlegend=False,
                                 hoverinfo="skip"))
        ys_lo = loess_interp(x, yv, xs)
        if ys_lo is not None:
            fig.add_trace(go.Scatter(x=xs, y=ys_lo, mode="lines",
                                     xaxis="x" + suf, yaxis="y" + suf,
                                     line=dict(color="#3366FF", width=1.7), showlegend=False,
                                     hoverinfo="skip"))

    layout_axes["xaxis" + suf] = dict(
        domain=xdom, range=rng, anchor="y" + suf, tickmode="array", tickvals=brks,
        ticktext=fmt_labels(brks), tickangle=-90, ticks="outside", ticklen=7,
        tickwidth=1.3, tickcolor=BORDER, tickfont=dict(size=22, color="#4D4D4D", family=FONT),
        showgrid=True, gridcolor=GRID, gridwidth=1.5, zeroline=False, showline=False,
        minor=dict(tickvals=mnr, showgrid=True, gridcolor=GRID, gridwidth=0.75, ticks=""),
        automargin=False, fixedrange=True)
    first_col = (c == 0)
    layout_axes["yaxis" + suf] = dict(
        domain=ydom, range=Y_RANGE, anchor="x" + suf, tickmode="array", tickvals=y_ticks,
        ticktext=[f"{v:.1f}" for v in y_ticks], showticklabels=first_col,
        ticks="outside" if first_col else "", ticklen=7, tickwidth=1.3, tickcolor=BORDER,
        tickfont=dict(size=22, color="#4D4D4D", family=FONT),
        showgrid=True, gridcolor=GRID, gridwidth=1.5, zeroline=False, showline=False,
        minor=dict(tickvals=y_minor, showgrid=True, gridcolor=GRID, gridwidth=0.75, ticks=""),
        automargin=False, fixedrange=True)

    # strip
    shapes.append(dict(type="rect", xref="paper", yref="paper", x0=xdom[0], x1=xdom[1],
                       y0=1 - T / H, y1=1 - (T - STRIP_H) / H, fillcolor="#D9D9D9",
                       line=dict(color=BORDER, width=1.3), layer="below"))
    annotations.append(dict(x=(L + PANEL_W / 2) / W, y=1 - (T - STRIP_H / 2) / H,
                            xref="paper", yref="paper", text=name, showarrow=False,
                            font=dict(size=15, color="#1A1A1A", family=FONT),
                            width=PANEL_W - 3, align="center", xanchor="center",
                            yanchor="middle"))
    # panel border
    shapes.append(dict(type="rect", xref="paper", yref="paper", x0=xdom[0], x1=xdom[1],
                       y0=ydom[0], y1=ydom[1], line=dict(color=BORDER, width=1.3),
                       layer="above"))

annotations.append(dict(x=94 / W, y=1 - 9 / H, xref="paper", yref="paper", text=title_text,
                        showarrow=False, xanchor="left", yanchor="top", align="left",
                        font=dict(size=34, color="black", family=FONT)))
annotations.append(dict(x=31 / W, y=1 - 1321 / H, xref="paper", yref="paper", text=y_title,
                        showarrow=False, textangle=-90, xanchor="center", yanchor="middle",
                        font=dict(size=27.5, color="black", family=FONT)))
annotations.append(dict(x=1000 / W, y=1 - 2622 / H, xref="paper", yref="paper", text=x_title,
                        showarrow=False, xanchor="center", yanchor="middle",
                        font=dict(size=28, color="black", family=FONT)))
annotations.append(dict(x=1914 / W, y=1 - 2662 / H, xref="paper", yref="paper", text=caption,
                        showarrow=False, xanchor="right", yanchor="middle",
                        font=dict(size=23, color="black", family=FONT)))

fig.update_layout(width=W, height=H, margin=dict(l=0, r=0, t=0, b=0),
                  paper_bgcolor="white", plot_bgcolor="white", showlegend=False,
                  font=dict(family=FONT), shapes=shapes, annotations=annotations,
                  **layout_axes)

fig.write_html("out.html")
